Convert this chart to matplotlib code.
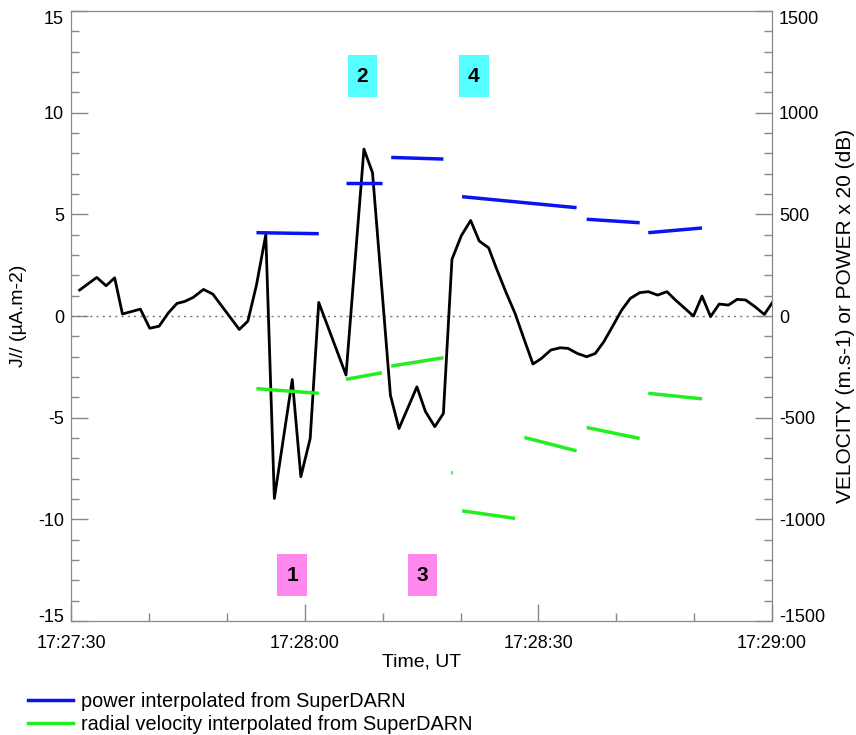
import numpy as np
import matplotlib.pyplot as plt
import matplotlib.transforms as mtransforms
from matplotlib.patches import Rectangle

plt.rcParams['font.family'] = ['Liberation Sans', 'DejaVu Sans']
plt.rcParams['axes.unicode_minus'] = False

# time in seconds after 17:27:30 UT
j_t = [1.1, 3.3, 4.5, 5.6, 6.6, 8.9, 10.1, 11.3, 12.5, 13.6, 14.6, 15.7, 17.0, 18.2,
       21.6, 22.7, 23.8, 25.0, 26.1, 28.4, 29.5, 30.7, 31.8, 35.3, 37.6, 38.7,
       41.0, 42.1, 44.4, 45.5, 46.7, 47.8, 48.9, 50.1, 51.3, 52.4, 53.6, 54.6,
       55.8, 57.0, 58.2, 59.3, 60.4, 61.6, 62.8, 63.8, 65.0, 66.2, 67.3, 68.4,
       69.5, 70.7, 71.8, 73.0, 74.1, 75.3, 76.5, 77.5, 78.7, 79.9, 81.0, 82.1,
       83.2, 84.4, 85.5, 86.6, 87.8, 89.0, 90.1]
j_val = [1.28, 1.9, 1.49, 1.88, 0.1, 0.34, -0.6, -0.5, 0.16, 0.62, 0.72, 0.92, 1.31, 1.08,
         -0.66, -0.25, 1.52, 4.0, -8.97, -3.12, -7.9, -6.02, 0.67, -2.9, 8.21, 7.05,
         -3.89, -5.53, -3.48, -4.7, -5.44, -4.79, 2.79, 3.95, 4.7, 3.69, 3.36, 2.35,
         1.2, 0.13, -1.18, -2.36, -2.08, -1.67, -1.56, -1.59, -1.84, -2.0, -1.84, -1.26,
         -0.52, 0.3, 0.87, 1.15, 1.2, 1.03, 1.2, 0.82, 0.41, 0.0, 0.98, -0.03,
         0.59, 0.54, 0.82, 0.79, 0.46, 0.08, 0.7]

# SuperDARN segments (start time, end time, start value, end value)
seg_t0 = [23.8, 35.3, 41.1, 50.2, 66.2, 74.1]
seg_t1 = [31.8, 39.9, 47.8, 64.9, 73.0, 81.0]
power_v0 = [410, 653, 780, 587, 476, 410]
power_v1 = [405, 653, 772, 533, 459, 433]

vel_t0 = [23.8, 35.3, 41.1, 48.8, 50.2, 58.2, 66.2, 74.1]
vel_t1 = [31.8, 39.9, 47.8, 49.0, 57.0, 64.9, 73.0, 81.0]
vel_v0 = [-357, -311, -246, -770, -958, -597, -548, -380]
vel_v1 = [-380, -279, -205, -772, -995, -663, -602, -407]

box_labels = ['1', '2', '3', '4']
box_t = [28.4, 37.4, 45.1, 51.7]
box_y = [-12.75, 11.8, -12.75, 11.8]
box_colors = ['#ff88ee', '#55ffff', '#ff88ee', '#55ffff']

tick_sec = [0, 30, 60, 90]
tick_labels = ['17:27:30', '17:28:00', '17:28:30', '17:29:00']

fig = plt.figure(figsize=(8.56, 7.35), dpi=100)
ax = fig.add_axes([0.083, 0.155, 0.819, 0.830])
ax2 = ax.twinx()

ax.axhline(0, color='#777777', lw=1, ls=(0, (1.5, 3)))
ax.plot(j_t, j_val, color='black', lw=2)

for a, b, v0, v1 in zip(seg_t0, seg_t1, power_v0, power_v1):
    ax2.plot([a, b], [v0, v1], color='#0a14f0', lw=2.5, solid_capstyle='butt')
for a, b, v0, v1 in zip(vel_t0, vel_t1, vel_v0, vel_v1):
    ax2.plot([a, b], [v0, v1], color='#22ee22', lw=2.5, solid_capstyle='butt')

# numbered boxes (about 30 x 42 px)
bw, bh = 3.8, 2.05
for lab, t, y, c in zip(box_labels, box_t, box_y, box_colors):
    ax.add_patch(Rectangle((t - bw / 2, y - bh / 2), bw, bh, fc=c, ec='none', zorder=4))
    ax.text(t, y, lab, ha='center', va='center', fontsize=15, fontweight='bold', zorder=5)

ax.set_xlim(0, 90)
ax.set_ylim(-15, 15)
ax2.set_ylim(-1500, 1500)
ax.set_xticks(tick_sec)
ax.set_xticklabels(tick_labels)
ax.set_xticks(np.arange(0, 91, 10), minor=True)
ax.set_yticks(np.arange(-15, 16, 5))
ax.set_yticks(np.arange(-15, 16, 1), minor=True)
ax2.set_yticks(np.arange(-1500, 1501, 500))
ax2.set_yticks(np.arange(-1500, 1501, 100), minor=True)

ax.tick_params(axis='both', which='major', direction='in', length=12, width=1,
               color='#888888', labelsize=13, pad=5)
ax.tick_params(axis='x', which='major', pad=10)
ax.tick_params(axis='both', which='minor', direction='in', length=6, width=1, color='#888888')
ax.tick_params(axis='x', top=False, which='both')
ax2.tick_params(which='major', direction='in', length=12, width=1, color='#888888',
                labelsize=13, pad=5)
ax2.tick_params(which='minor', direction='in', length=6, width=1, color='#888888')
for a in (ax, ax2):
    for s in a.spines.values():
        s.set_color('#888888')

# end labels sit a little inside the axis range
for a in (ax, ax2):
    labs = a.get_yticklabels()
    labs[0].set_transform(labs[0].get_transform() +
                          mtransforms.ScaledTranslation(0, 6 / 100, fig.dpi_scale_trans))
    labs[-1].set_transform(labs[-1].get_transform() +
                           mtransforms.ScaledTranslation(0, -6 / 100, fig.dpi_scale_trans))

ax.set_xlabel('Time, UT', fontsize=14, labelpad=1)
ax.set_ylabel('J// (µA.m-2)', fontsize=14, labelpad=8)
ax2.set_ylabel('VELOCITY (m.s-1) or POWER x 20 (dB)', fontsize=15, labelpad=8)

h1, = ax.plot([], [], color='#0a14f0', lw=2.5)
h2, = ax.plot([], [], color='#22ee22', lw=2.5)
fig.legend([h1, h2], ['power interpolated from SuperDARN',
                      'radial velocity interpolated from SuperDARN'],
           loc='upper left', bbox_to_anchor=(0.033, 0.059), frameon=False,
           borderpad=0, borderaxespad=0, fontsize=14.3,
           handlelength=2.25, handletextpad=0.4, labelspacing=0.22)

fig.savefig('out.png', dpi=100)
